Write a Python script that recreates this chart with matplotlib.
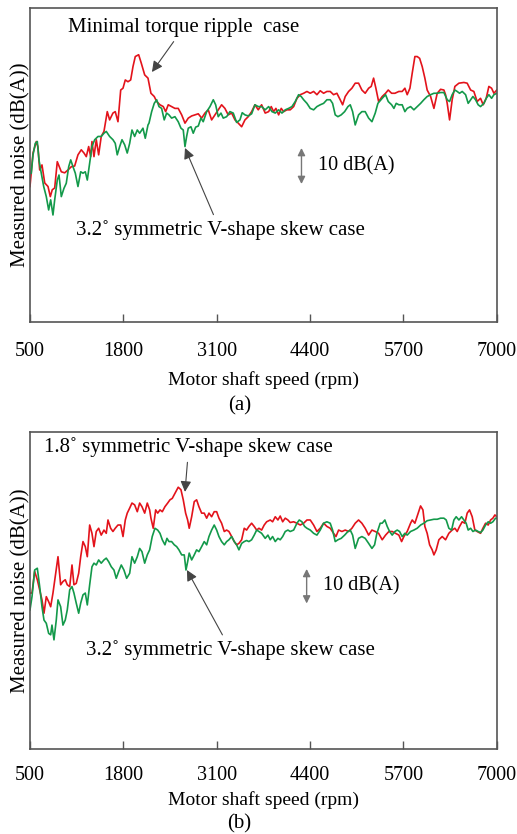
import matplotlib
matplotlib.use('Agg')
from matplotlib import pyplot as plt

plt.rcParams['font.family'] = ['Liberation Serif', 'DejaVu Serif']

# (a) minimal torque ripple case vs 3.2 deg skew
rpm_a_ripple = [500, 542, 588, 611, 635, 667, 705, 751, 783, 810, 844, 880, 936, 983, 1029, 1075, 1122,
                1168, 1214, 1252, 1284, 1317, 1345, 1363, 1391, 1423, 1456, 1492, 1530, 1576, 1609, 1655,
                1687, 1725, 1763, 1795, 1827, 1864, 1902, 1934, 1966, 2013, 2049, 2097, 2143, 2184, 2230,
                2264, 2310, 2356, 2389, 2425, 2472, 2518, 2564, 2612, 2658, 2704, 2751, 2797, 2843, 2890,
                2936, 2982, 3029, 3075, 3121, 3168, 3214, 3260, 3308, 3354, 3400, 3447, 3493, 3539, 3586,
                3632, 3678, 3725, 3775, 3823, 3859, 3892, 3924, 3962, 3998, 4032, 4077, 4123, 4171, 4217,
                4263, 4310, 4356, 4402, 4449, 4495, 4541, 4588, 4634, 4680, 4727, 4773, 4819, 4853, 4889,
                4936, 4982, 5028, 5075, 5121, 5167, 5215, 5251, 5284, 5316, 5354, 5404, 5451, 5488, 5535,
                5581, 5636, 5682, 5720, 5752, 5790, 5822, 5859, 5891, 5925, 5961, 5998, 6030, 6078, 6124,
                6170, 6217, 6263, 6286, 6309, 6342, 6378, 6416, 6472, 6541, 6587, 6635, 6680, 6726, 6773,
                6810, 6852, 6889, 6927, 6959, 7000]
noise_a_ripple = [67.6, 76.9, 80.1, 78.6, 72.2, 73.6, 68.6, 67.6, 64.8, 66.7, 67.2, 74.5, 71.7, 71.4, 72.2,
                  73.1, 73.3, 76.4, 77.8, 76.9, 75.9, 78.7, 75.9, 80.1, 75.9, 80.6, 76.4, 81.5, 82.9, 88.4,
                  86.1, 88.0, 88.4, 85.6, 94.4, 94.9, 97.2, 96.7, 97.2, 100.9, 103.7, 104.2, 101.9, 98.6,
                  97.7, 93.5, 92.6, 91.2, 90.3, 89.8, 88.4, 90.3, 89.8, 89.3, 89.3, 87.5, 85.2, 86.6, 87.2,
                  87.5, 87.8, 86.6, 88.0, 88.9, 86.1, 87.5, 88.9, 90.3, 89.3, 87.5, 88.0, 86.1, 85.2, 84.2,
                  86.1, 87.0, 88.4, 90.3, 88.9, 90.3, 88.0, 88.4, 89.8, 88.4, 89.3, 87.5, 89.3, 88.4, 88.9,
                  88.9, 89.8, 92.1, 93.1, 93.5, 94.0, 93.5, 94.0, 93.1, 94.2, 93.5, 94.0, 94.0, 93.1, 93.5,
                  91.7, 90.3, 92.6, 94.0, 94.9, 96.3, 96.3, 94.4, 93.5, 94.9, 95.4, 97.7, 94.9, 91.2, 92.6,
                  93.5, 94.4, 93.5, 93.5, 94.0, 94.0, 94.9, 93.1, 94.9, 99.1, 103.7, 103.7, 103.2, 100.9,
                  97.7, 94.4, 92.6, 89.3, 93.5, 94.6, 94.4, 93.1, 90.7, 86.1, 91.7, 95.4, 96.3, 96.5, 96.3,
                  94.4, 94.0, 91.2, 92.1, 90.3, 92.1, 95.4, 94.9, 93.5, 94.4]

rpm_a_skew = [518, 542, 574, 602, 625, 657, 691, 727, 760, 788, 820, 844, 880, 904, 936, 973, 1005, 1039,
              1067, 1099, 1131, 1168, 1206, 1238, 1270, 1298, 1331, 1363, 1401, 1447, 1492, 1530, 1562,
              1609, 1655, 1687, 1715, 1749, 1781, 1818, 1854, 1888, 1920, 1957, 1994, 2027, 2073, 2105,
              2143, 2157, 2194, 2230, 2264, 2296, 2333, 2369, 2403, 2435, 2472, 2518, 2564, 2602, 2634,
              2658, 2681, 2704, 2741, 2773, 2807, 2843, 2880, 2912, 2960, 3006, 3052, 3085, 3121, 3159,
              3191, 3238, 3284, 3330, 3377, 3423, 3455, 3493, 3539, 3586, 3632, 3678, 3725, 3775, 3823,
              3869, 3915, 3962, 4008, 4054, 4101, 4147, 4193, 4240, 4276, 4310, 4356, 4402, 4449, 4495,
              4541, 4588, 4634, 4680, 4713, 4750, 4787, 4833, 4881, 4927, 4959, 4992, 5028, 5075, 5121,
              5167, 5215, 5261, 5307, 5344, 5404, 5451, 5488, 5535, 5567, 5599, 5636, 5682, 5720, 5752,
              5799, 5845, 5891, 5939, 5984, 6030, 6078, 6124, 6170, 6217, 6263, 6309, 6342, 6378, 6416,
              6448, 6481, 6518, 6565, 6601, 6635, 6667, 6704, 6740, 6773, 6820, 6852, 6889, 6927, 6959,
              7000]
noise_a_skew = [71.3, 76.4, 79.6, 80.1, 75.0, 71.3, 67.6, 64.8, 61.1, 63.9, 59.7, 63.9, 69.4, 70.8, 64.8,
                67.1, 68.5, 73.1, 75.0, 73.1, 71.3, 67.6, 71.7, 71.3, 71.7, 69.4, 74.1, 78.7, 80.6, 81.5,
                81.5, 82.4, 82.9, 81.5, 80.6, 79.6, 76.4, 78.7, 80.6, 79.2, 76.9, 79.6, 83.3, 81.5, 83.3,
                82.4, 83.8, 81.0, 84.7, 85.2, 88.4, 90.7, 91.7, 89.8, 89.3, 86.1, 88.0, 87.5, 86.6, 87.0,
                85.6, 83.8, 83.3, 78.7, 81.5, 83.8, 84.2, 82.4, 84.1, 84.4, 86.6, 85.6, 88.4, 89.8, 91.7,
                90.3, 87.0, 88.0, 86.6, 87.0, 88.4, 88.0, 85.4, 86.1, 88.1, 87.5, 87.2, 87.8, 90.3, 89.8,
                89.8, 88.9, 89.8, 88.4, 88.0, 88.9, 88.0, 88.9, 89.3, 89.8, 91.2, 93.1, 92.6, 91.7, 90.7,
                89.3, 88.9, 89.8, 90.3, 90.7, 91.7, 91.7, 90.7, 87.5, 87.0, 87.5, 88.4, 89.8, 90.3, 88.4,
                84.7, 87.5, 88.4, 88.4, 86.6, 85.6, 88.0, 90.7, 92.1, 93.1, 91.2, 90.3, 89.3, 90.7, 90.3,
                90.3, 88.4, 89.3, 89.8, 88.9, 89.8, 90.7, 91.7, 92.6, 93.1, 93.5, 93.5, 93.7, 93.7, 91.7,
                91.2, 93.1, 94.4, 94.0, 93.5, 94.0, 93.1, 90.7, 91.7, 92.6, 91.7, 90.3, 89.8, 90.7, 92.1,
                93.1, 92.1, 93.1, 93.5]

# (b) 1.8 deg skew vs 3.2 deg skew
rpm_b_skew18 = [500, 528, 565, 602, 635, 667, 695, 727, 760, 788, 820, 852, 890, 927, 959, 991, 1019,
                1053, 1085, 1112, 1144, 1178, 1206, 1238, 1270, 1298, 1331, 1363, 1391, 1423, 1456, 1492,
                1530, 1562, 1586, 1623, 1655, 1687, 1725, 1763, 1795, 1827, 1854, 1888, 1920, 1957, 1994,
                2027, 2059, 2097, 2133, 2166, 2184, 2216, 2250, 2278, 2310, 2342, 2379, 2417, 2449, 2481,
                2518, 2564, 2602, 2634, 2667, 2695, 2717, 2751, 2787, 2820, 2852, 2890, 2926, 2960, 2992,
                3029, 3065, 3099, 3131, 3168, 3205, 3238, 3270, 3308, 3344, 3377, 3409, 3447, 3483, 3516,
                3548, 3586, 3622, 3656, 3688, 3725, 3761, 3795, 3845, 3878, 3915, 3952, 3984, 4018, 4054,
                4091, 4123, 4171, 4217, 4263, 4310, 4356, 4402, 4449, 4495, 4541, 4588, 4634, 4680, 4727,
                4760, 4797, 4843, 4889, 4936, 4982, 5028, 5075, 5121, 5167, 5215, 5261, 5307, 5354, 5404,
                5451, 5497, 5543, 5590, 5636, 5674, 5706, 5752, 5799, 5822, 5859, 5905, 5938, 5971, 5998,
                6030, 6064, 6100, 6124, 6156, 6193, 6239, 6286, 6332, 6378, 6416, 6448, 6481, 6518, 6555,
                6587, 6620, 6657, 6694, 6726, 6773, 6806, 6843, 6880, 6913, 6945, 6973, 7000]
noise_b_skew18 = [73.3, 73.3, 79.3, 77.0, 74.2, 71.4, 67.7, 72.3, 70.9, 69.5, 73.3, 77.9, 83.4, 75.6, 76.5,
                  77.0, 75.6, 75.1, 81.1, 75.6, 76.0, 78.8, 83.4, 87.6, 86.2, 83.4, 92.2, 89.9, 86.2, 90.4,
                  91.3, 89.4, 90.8, 89.9, 93.6, 91.3, 90.4, 91.3, 92.2, 92.2, 89.0, 93.6, 95.5, 96.9, 98.3,
                  97.8, 95.9, 98.3, 97.3, 95.5, 98.3, 96.4, 94.1, 91.3, 96.4, 95.5, 96.4, 95.9, 97.3, 98.3,
                  99.2, 99.6, 101.0, 102.7, 102.0, 99.2, 95.5, 93.6, 91.3, 94.5, 98.7, 99.2, 97.3, 95.5,
                  95.5, 94.1, 95.5, 94.5, 95.9, 95.9, 94.1, 92.7, 90.4, 90.8, 90.4, 89.0, 87.6, 86.7, 87.1,
                  88.1, 91.3, 90.8, 91.8, 92.7, 91.8, 90.8, 91.3, 90.8, 92.2, 93.1, 93.6, 93.1, 94.5, 93.6,
                  94.7, 93.1, 94.1, 93.6, 92.9, 93.1, 92.7, 92.2, 92.7, 93.6, 93.6, 92.2, 90.4, 91.3, 92.7,
                  91.8, 91.3, 89.9, 89.0, 90.8, 90.4, 90.8, 90.4, 91.3, 92.7, 93.6, 92.7, 91.3, 89.4, 90.8,
                  90.4, 89.9, 88.1, 89.4, 90.4, 90.4, 89.9, 89.4, 87.6, 89.0, 90.4, 92.7, 93.6, 92.7, 95.5,
                  97.5, 96.4, 91.8, 89.9, 86.7, 85.3, 83.9, 85.3, 88.1, 89.0, 88.1, 89.9, 90.8, 91.3, 90.4,
                  91.8, 93.1, 92.7, 95.5, 96.4, 94.5, 90.8, 90.4, 89.9, 91.3, 92.7, 92.2, 93.6, 94.1, 95.0,
                  94.5]

rpm_b_skew32 = [500, 528, 565, 602, 635, 667, 695, 727, 760, 788, 806, 834, 866, 890, 927, 959, 991, 1019,
                1053, 1085, 1112, 1144, 1178, 1206, 1238, 1270, 1298, 1331, 1363, 1391, 1423, 1456, 1492,
                1530, 1562, 1596, 1632, 1669, 1701, 1735, 1771, 1808, 1846, 1888, 1920, 1957, 1994, 2027,
                2059, 2097, 2133, 2166, 2202, 2240, 2278, 2310, 2342, 2379, 2407, 2435, 2472, 2509, 2542,
                2574, 2612, 2648, 2672, 2695, 2717, 2751, 2787, 2820, 2852, 2890, 2926, 2960, 2992, 3029,
                3065, 3099, 3131, 3168, 3205, 3238, 3270, 3308, 3344, 3377, 3409, 3447, 3483, 3516, 3548,
                3586, 3622, 3656, 3688, 3725, 3775, 3813, 3845, 3878, 3915, 3952, 3984, 4018, 4054, 4091,
                4123, 4171, 4217, 4249, 4286, 4324, 4356, 4402, 4449, 4495, 4541, 4588, 4634, 4680, 4713,
                4750, 4787, 4833, 4881, 4927, 4959, 4992, 5028, 5075, 5121, 5167, 5215, 5261, 5298, 5330,
                5376, 5404, 5441, 5474, 5507, 5543, 5581, 5613, 5646, 5682, 5720, 5752, 5799, 5845, 5891,
                5939, 5984, 6030, 6078, 6124, 6170, 6217, 6263, 6295, 6332, 6370, 6402, 6434, 6472, 6509,
                6541, 6573, 6601, 6635, 6667, 6704, 6740, 6773, 6806, 6843, 6880, 6913, 6945, 6982, 7000]
noise_b_skew32 = [68.6, 72.3, 79.7, 80.2, 75.1, 69.5, 65.8, 64.9, 62.1, 61.7, 64.4, 60.3, 65.8, 71.4, 69.5,
                  64.4, 65.8, 68.6, 74.2, 75.1, 73.3, 70.5, 67.7, 70.5, 72.8, 73.3, 70.0, 75.6, 80.6, 81.6,
                  81.1, 82.5, 81.6, 82.5, 83.0, 82.0, 80.6, 79.7, 77.4, 79.3, 81.1, 79.7, 77.4, 78.8, 83.4,
                  81.6, 83.4, 85.7, 84.8, 81.6, 83.9, 85.3, 89.0, 91.3, 90.8, 89.9, 88.1, 86.7, 88.5, 87.6,
                  87.6, 86.7, 86.2, 85.3, 83.9, 83.9, 79.7, 82.0, 84.4, 82.5, 83.9, 85.3, 84.8, 86.2, 87.6,
                  86.7, 89.0, 90.8, 92.2, 90.8, 89.0, 87.6, 86.7, 87.6, 88.1, 89.0, 87.6, 86.7, 85.3, 87.1,
                  87.6, 87.9, 87.6, 88.1, 89.4, 90.8, 90.4, 89.9, 88.5, 89.4, 88.1, 89.0, 87.6, 88.5, 88.1,
                  89.0, 90.4, 90.8, 90.4, 90.8, 92.7, 93.6, 93.1, 91.8, 91.3, 90.8, 89.9, 89.4, 90.8, 92.7,
                  93.1, 92.7, 90.8, 87.6, 88.1, 88.5, 89.4, 90.4, 90.8, 89.4, 85.7, 88.5, 89.0, 88.5, 87.1,
                  85.7, 86.7, 89.9, 92.7, 92.7, 93.6, 91.8, 90.4, 89.4, 90.4, 90.8, 90.4, 89.0, 89.9, 89.4,
                  90.4, 90.8, 91.3, 92.2, 92.7, 93.4, 93.6, 93.8, 93.8, 94.1, 94.1, 93.6, 91.3, 90.8, 93.6,
                  94.5, 93.6, 94.5, 93.6, 92.7, 90.8, 91.3, 90.4, 90.8, 90.4, 90.1, 90.8, 92.2, 93.1, 92.7,
                  93.1, 94.1, 94.1]

xticks = [500, 1800, 3100, 4400, 5700, 7000]

RED = '#e3131b'
GREEN = '#13994a'
FRAME = '#555555'


def style_axes(ax, ylim, pad, xlabelpad):
  ax.set_xlim(500, 7000)
  ax.set_ylim(*ylim)
  ax.set_xticks(xticks)
  ax.set_xticklabels([str(t) for t in xticks])
  ax.set_yticks([])
  ax.tick_params(axis='x', direction='in', length=6, width=1, color=FRAME,
                 pad=pad, labelsize=14.5)
  for s in ax.spines.values():
    s.set_color(FRAME)
    s.set_linewidth(1.2)
  ax.set_xlabel('Motor shaft speed (rpm)', fontsize=14, labelpad=xlabelpad)
  ax.set_ylabel('Measured noise (dB(A))', fontsize=15, labelpad=0)


def label_arrow(ax, text, tip, textpos):
  ax.annotate(text, xy=tip, xycoords='data', xytext=textpos, textcoords='axes fraction',
              ha='center', va='center', fontsize=15,
              arrowprops=dict(arrowstyle='-|>', color='#444444', lw=0.8,
                              mutation_scale=16, shrinkA=2, shrinkB=0))


def scale_bar(ax, x, y0, y1, tx):
  ax.annotate('', xy=(x, y0), xytext=(x, y1),
              arrowprops=dict(arrowstyle='<|-|>', color='#777777', lw=1.0,
                              mutation_scale=11, shrinkA=0, shrinkB=0))
  ax.text(tx, (y0 + y1) / 2, '10 dB(A)', ha='left', va='center', fontsize=14.5)


fig = plt.figure(figsize=(5.17, 8.34), dpi=100)

ax1 = fig.add_axes([0.058, 0.614, 0.903, 0.3765])
ax1.plot(rpm_a_ripple, noise_a_ripple, color=RED, lw=1.2)
ax1.plot(rpm_a_skew, noise_a_skew, color=GREEN, lw=1.2)
style_axes(ax1, (30, 117.2), 14.5, 7)
label_arrow(ax1, 'Minimal torque ripple  case', (2198, 99.4), (0.330, 0.939))
label_arrow(ax1, '3.2\u02da symmetric V-shape skew case', (2658, 78.3), (0.407, 0.293))
scale_bar(ax1, 4280, 68.3, 78.3, 4509)
fig.text(0.464, 0.513, '(a)', ha='center', va='center', fontsize=15)

ax2 = fig.add_axes([0.058, 0.102, 0.903, 0.3801])
ax2.plot(rpm_b_skew18, noise_b_skew18, color=RED, lw=1.2)
ax2.plot(rpm_b_skew32, noise_b_skew32, color=GREEN, lw=1.2)
style_axes(ax2, (30, 118.06), 12.5, 4)
label_arrow(ax2, '1.8\u02da symmetric V-shape skew case', (2658, 101.4), (0.340, 0.953))
label_arrow(ax2, '3.2\u02da symmetric V-shape skew case', (2685, 79.7), (0.430, 0.312))
scale_bar(ax2, 4352, 70.4, 80.0, 4578)
fig.text(0.462, 0.012, '(b)', ha='center', va='center', fontsize=15)

fig.savefig('out.png', dpi=100)
